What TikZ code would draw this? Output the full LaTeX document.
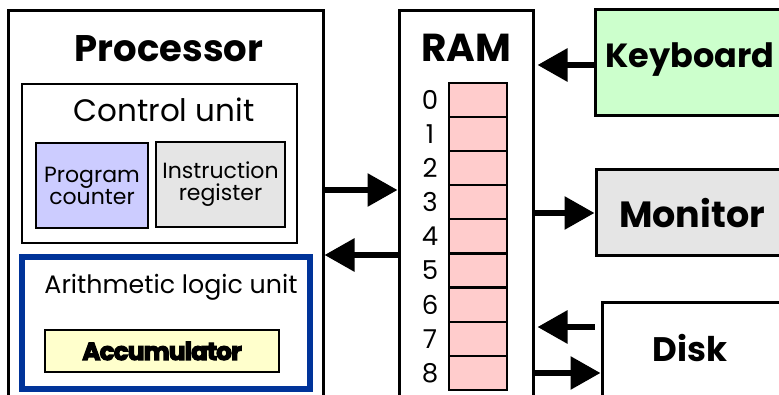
\documentclass[tikz,border=0pt]{standalone}
\usepackage{fontspec}
\setmainfont{Poppins}
\newfontfamily\accfont{Poppins Bold}[FakeBold=5, LetterSpace=-3]
\usetikzlibrary{arrows.meta}
\definecolor{pcfill}{HTML}{CCCCFF}
\definecolor{grayfill}{HTML}{E5E5E5}
\definecolor{accfill}{HTML}{FFFFCC}
\definecolor{ramfill}{HTML}{FFCCCC}
\definecolor{kbfill}{HTML}{CCFFCC}
\definecolor{alublue}{HTML}{003399}
\tikzset{
  box/.style={draw=black, rectangle, inner sep=0pt},
  bigbox/.style={box, line width=3pt},
  midbox/.style={box, line width=2.5pt},
  cell/.style={box, line width=2.2pt, fill=ramfill, minimum width=58pt, minimum height=34.1pt},
  arr/.style={line width=6pt, -{Triangle[length=30pt,width=32pt]}},
  lbl/.style={inner sep=0pt, anchor=center},
}
\newcommand{\fsz}[1]{\fontsize{#1}{#1}\selectfont}
\begin{document}
\begin{tikzpicture}[x=1pt,y=-1pt]
\useasboundingbox (0,0) rectangle (779,395);
\fill[white] (0,0) rectangle (779,395);
\clip (0,0) rectangle (779,395);
% Processor
\node[bigbox, minimum width=315pt, minimum height=409pt] (proc) at (165.5,215.5) {};
\node[lbl] (proct) at (169,49) {\fsz{37}\bfseries Processor};
% Control unit
\node[midbox, minimum width=275pt, minimum height=159pt] (ctrl) at (159.5,163.5) {};
\node[lbl] (ctrlt) at (164,110) {\fsz{31}Control unit};
\node[midbox, fill=pcfill, minimum width=112pt, minimum height=85pt] (pc) at (92,185.5)
  {\parbox{112pt}{\centering\fsz{22}Program\\[0pt]counter}};
\node[midbox, fill=grayfill, minimum width=129pt, minimum height=85pt] (ir) at (220.5,184.5)
  {\parbox{129pt}{\centering\fsz{22}Instruction\\[0pt]register}};
% ALU
\node[box, draw=alublue, line width=6pt, minimum width=288.5pt, minimum height=131.5pt] (alu) at (165.75,323.25) {};
\node[lbl] (alut) at (171,287) {\fsz{25.3}Arithmetic logic unit};
\node[midbox, fill=accfill, minimum width=234pt, minimum height=42pt] (acc) at (162,351)
  {\fsz{24.5}\accfont Accumulator};
% RAM
\node[bigbox, minimum width=134pt, minimum height=409pt] (ram) at (466,215.5) {};
\node[lbl] (ramt) at (466,48) {\fsz{39}\bfseries RAM};
\foreach \i in {0,...,8} {
  \node[cell] (c\i) at (478,100.05+34.1*\i) {};
  \node[lbl] (d\i) at (430,100.05+34.1*\i) {\fsz{26}\i};
}
% Devices
\node[bigbox, fill=kbfill, minimum width=235pt, minimum height=106pt] (kb) at (712.5,63) {};
\node[lbl] (kbt) at (690,60) {\fsz{33.5}\bfseries Keyboard};
\node[bigbox, fill=grayfill, minimum width=234pt, minimum height=86pt] (mon) at (713,213) {};
\node[lbl] (mont) at (692,213) {\fsz{36.5}\bfseries Monitor};
\node[bigbox, minimum width=228pt, minimum height=117pt] (disk) at (716,361.5) {};
\node[lbl] (diskt) at (690,348) {\fsz{34}\bfseries Disk};
% arrow levels
\coordinate (y1) at (0,190);
\coordinate (y2) at (0,255);
\coordinate (y3) at (0,65);
\coordinate (y4) at (0,213);
\coordinate (y5) at (0,327);
\coordinate (y6) at (0,373);
\draw[arr] (proc.east |- y1) -- (ram.west |- y1);
\draw[arr] (ram.west |- y2) -- (proc.east |- y2);
\draw[arr] (kb.west |- y3) -- ([xshift=3pt]ram.east |- y3);
\draw[arr] (ram.east |- y4) -- (mon.west |- y4);
\draw[arr] ([xshift=-6pt]disk.west |- y5) -- ([xshift=3pt]ram.east |- y5);
\draw[arr] (ram.east |- y6) -- (disk.west |- y6);
\end{tikzpicture}
\end{document}
